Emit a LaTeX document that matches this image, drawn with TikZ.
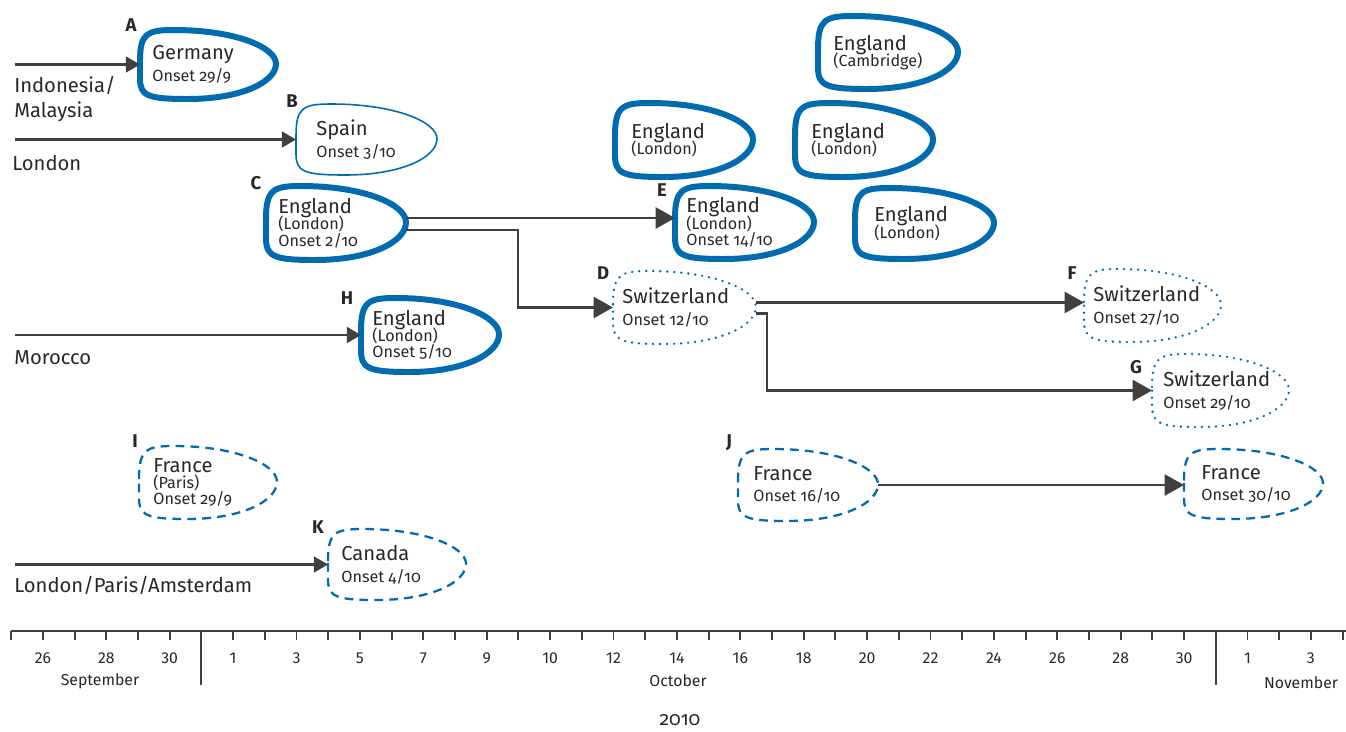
\documentclass[tikz,border=0pt]{standalone}
\usepackage{fontspec}
\setmainfont{Fira Sans}[Numbers=OldStyle]
\newfontfamily\axisfont{Fira Sans}[Numbers=Lining]
\usetikzlibrary{arrows.meta,calc,fit}
\setlength{\lineskiplimit}{-10pt}

\definecolor{caseblue}{RGB}{0,107,174}
\definecolor{arrgray}{RGB}{64,64,64}
\definecolor{txtgray}{RGB}{40,40,40}

\newcommand\sub[1]{{\fontsize{9.2}{9.3}\selectfont #1}}

% teardrop outline round a fitted node
\newcommand\caseoutline[2]{%
  \draw[#2] let \p1=(#1.north west), \p2=(#1.south east),
      \n1={\x2-\x1}, \n2={\y1-\y2} in
    (\x1,{\y1-0.45*\n2})
    .. controls (\x1,{\y1-0.05*\n2}) and ({\x1+0.05*\n1},\y1) .. ({\x1+0.25*\n1},\y1)
    .. controls ({\x1+0.7*\n1},\y1) and (\x2,{\y1-0.25*\n2}) .. (\x2,{\y1-0.49*\n2})
    .. controls (\x2,{\y1-0.75*\n2}) and ({\x1+0.75*\n1},\y2) .. ({\x1+0.35*\n1},\y2)
    .. controls ({\x1+0.05*\n1},\y2) and (\x1,{\y2+0.05*\n2}) .. (\x1,{\y2+0.3*\n2})
    -- cycle;}

\tikzset{
  case/.style={inner sep=0pt, outer sep=0pt,
    append after command={\pgfextra{\caseoutline{\tikzlastnode}{#1}}}},
  thickline/.style={draw=caseblue, line width=3.4pt},
  thinline/.style={draw=caseblue, line width=0.9pt},
  dotline/.style={draw=caseblue, line width=1.5pt, line cap=round, dash pattern=on 0pt off 4pt},
  dashline/.style={draw=caseblue, line width=1.3pt, dash pattern=on 5pt off 3.5pt},
  casetext/.style={anchor=west, inner sep=0pt, align=left, text=txtgray, font=\fontsize{11.5}{9.3}\selectfont},
  caselabel/.style={inner sep=0pt, text=txtgray, font=\bfseries\fontsize{10.5}{12}\selectfont},
  arr/.style={draw=arrgray, line width=1.2pt, -{Triangle[length=11pt,width=12pt]}},
  inarr/.style={arr, -{Triangle[length=8pt,width=9pt]}},
  src/.style={anchor=north west, inner sep=0pt, align=left, text=txtgray, font=\fontsize{11.5}{14}\selectfont},
  axis/.style={draw=arrgray, line width=1.1pt},
  day/.style={inner sep=0pt, text=txtgray, font=\axisfont\fontsize{9}{10}\selectfont},
}

\begin{document}
\begin{tikzpicture}[x=0.02cm, y=-0.02cm]
\useasboundingbox (0,0) rectangle (1346,731);

% cases
\node[case=thickline, fit={(140,30) (276,99)}] (A) {};
\node[case=thinline, fit={(296,104) (437,175)}] (B) {};
\node[case=thickline, fit={(266,186) (406,260)}] (C) {};
\node[case=thickline, fit={(675,186) (814,259)}] (E) {};
\node[case=thickline, fit={(615,103) (753,177)}] (engLon2) {};
\node[case=thickline, fit={(795,103) (933,177)}] (engLon3) {};
\node[case=thickline, fit={(818,16) (958,89)}] (engCam) {};
\node[case=thickline, fit={(855,188) (994,259)}] (engLon4) {};
\node[case=thickline, fit={(361,298) (499,372)}] (H) {};
\node[case=dotline, fit={(613,271) (756,344)}] (D) {};
\node[case=dotline, fit={(1084,269) (1221,342)}] (F) {};
\node[case=dotline, fit={(1152,354) (1289,427)}] (G) {};
\node[case=dashline, fit={(139,446) (277,519)}] (I) {};
\node[case=dashline, fit={(738,449) (878,521)}] (J) {};
\node[case=dashline, fit={(1184,449) (1323,519)}] (fraLate) {};
\node[case=dashline, fit={(328,529) (466,600)}] (K) {};

% texts inside
\node[casetext] (A-txt) at ($(A.west)+(12,0)$) {Germany\\[3pt]\sub{Onset 29/9}};
\node[casetext] (B-txt) at ($(B.west)+(20,0)$) {Spain\\[3pt]\sub{Onset 3/10}};
\node[casetext] (C-txt) at ($(C.west)+(12,0)$) {England\\\sub{(London)}\\\sub{Onset 2/10}};
\node[casetext] (E-txt) at ($(E.west)+(11,0)$) {England\\\sub{(London)}\\\sub{Onset 14/10}};
\node[casetext] (engLon2-txt) at ($(engLon2.west)+(16,0)$) {England\\\sub{(London)}};
\node[casetext] (engLon3-txt) at ($(engLon3.west)+(16,0)$) {England\\\sub{(London)}};
\node[casetext] (engCam-txt) at ($(engCam.west)+(15,0)$) {England\\\sub{(Cambridge)}};
\node[casetext] (engLon4-txt) at ($(engLon4.west)+(19,0)$) {England\\\sub{(London)}};
\node[casetext] (H-txt) at ($(H.west)+(11,0)$) {England\\\sub{(London)}\\\sub{Onset 5/10}};
\node[casetext] (D-txt) at ($(D.west)+(9,0)$) {Switzerland\\[3pt]\sub{Onset 12/10}};
\node[casetext] (F-txt) at ($(F.west)+(9,0)$) {Switzerland\\[3pt]\sub{Onset 27/10}};
\node[casetext] (G-txt) at ($(G.west)+(11,0)$) {Switzerland\\[3pt]\sub{Onset 29/10}};
\node[casetext] (I-txt) at ($(I.west)+(14,0)$) {France\\\sub{(Paris)}\\\sub{Onset 29/9}};
\node[casetext] (J-txt) at ($(J.west)+(15,0)$) {France\\[3pt]\sub{Onset 16/10}};
\node[casetext] (fraLate-txt) at ($(fraLate.west)+(17,0)$) {France\\[3pt]\sub{Onset 30/10}};
\node[casetext] (K-txt) at ($(K.west)+(13,0)$) {Canada\\[3pt]\sub{Onset 4/10}};

% letters
\node[caselabel] (A-lab) at (131,25) {A};
\node[caselabel] (B-lab) at (292,101) {B};
\node[caselabel] (C-lab) at (256,183) {C};
\node[caselabel] (E-lab) at (662,190) {E};
\node[caselabel] (D-lab) at (603,273) {D};
\node[caselabel] (H-lab) at (347,298) {H};
\node[caselabel] (F-lab) at (1072,273) {F};
\node[caselabel] (G-lab) at (1136,367) {G};
\node[caselabel] (I-lab) at (135,441) {I};
\node[caselabel] (J-lab) at (729,443) {J};
\node[caselabel] (K-lab) at (318,527) {K};

% imported from
\coordinate (from-A) at (15,0 |- A.west);
\coordinate (from-B) at (15,0 |- B.west);
\coordinate (from-H) at (15,0 |- H.west);
\coordinate (from-K) at (15,0 |- K.west);
\draw[inarr] (from-A) -- (A.west);
\draw[inarr] (from-B) -- (B.west);
\draw[inarr] (from-H) -- (H.west);
\draw[inarr] (from-K) -- (K.west);
\node[src] (src-A) at (14,76) {Indonesia/\\Malaysia};
\node[src] (src-B) at (12,155) {London};
\node[src] (src-H) at (14,350) {Morocco};
\node[src] (src-K) at (14,576) {London/Paris/Amsterdam};

% transmission
\coordinate (c-out1) at ($(C.east)+(0,-5)$);
\coordinate (c-out2) at ($(C.east)+(0,7)$);
\coordinate (CD-bend) at (518,270);
\draw[arr] (c-out1) -- (c-out1 -| E.west);
\draw[arr] (c-out2) -| (CD-bend) |- (D.west);
\coordinate (d-out1) at ($(D.east)+(0,-5)$);
\coordinate (d-out2) at ($(D.east)+(0,6)$);
\coordinate (DG-bend) at (767,350);
\draw[arr] (d-out1) -- (d-out1 -| F.west);
\draw[arr] (d-out2) -| (DG-bend) |- (G.west);
\draw[arr] (J.east) -- (J.east -| fraLate.west);

% time axis
\draw[axis] (11,631) -- (1346,631);
\foreach \k in {0,...,42} \draw[axis] ({11.2+31.7*\k},631) -- ++(0,9);
\foreach \k in {6,38} \draw[axis] ({11.2+31.7*\k},631) -- ++(0,54);
\foreach \k/\d in {1/26,3/28,5/30,7/1,9/3,11/5,13/7,15/9,17/10,19/12,21/14,23/16,25/18,27/20,29/22,31/24,33/26,35/28,37/30,39/1,41/3}
  \node[day] (day\k) at ({11.2+31.7*\k},658) {\d};
\node[day] (sep) at (100,681) {September};
\node[day] (oct) at (678,681) {October};
\node[day] (nov) at (1301,683) {November};
\node[inner sep=0pt, text=txtgray, font=\fontsize{11}{12}\selectfont] (yr) at (680,720) {2010};
\end{tikzpicture}
\end{document}
